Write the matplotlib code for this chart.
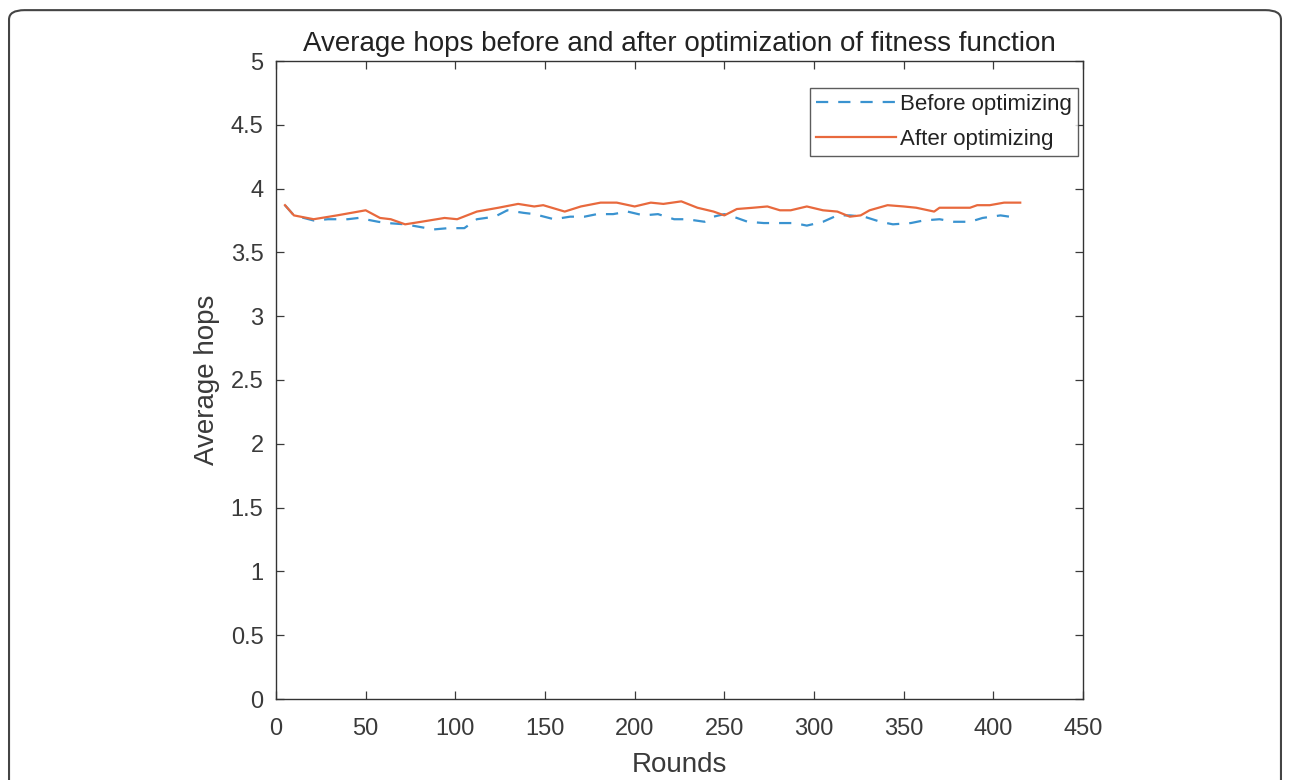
import matplotlib
matplotlib.use("Agg")
import matplotlib.pyplot as plt
from matplotlib.patches import FancyBboxPatch

plt.rcParams['font.family'] = ['Liberation Sans', 'DejaVu Sans']

# Data
after_x = [5, 10, 21, 34, 50, 58, 64, 72, 81, 94, 101, 112, 124, 135, 144, 149,
           161, 170, 181, 190, 200, 209, 216, 226, 235, 244, 250, 257, 266, 274,
           281, 287, 296, 305, 313, 320, 326, 331, 341, 350, 357, 367, 370, 380,
           387, 391, 398, 406, 415]
after_y = [3.87, 3.79, 3.76, 3.79, 3.83, 3.77, 3.76, 3.72, 3.74, 3.77, 3.76, 3.82,
           3.85, 3.88, 3.86, 3.87, 3.82, 3.86, 3.89, 3.89, 3.86, 3.89, 3.88, 3.90,
           3.85, 3.82, 3.79, 3.84, 3.85, 3.86, 3.83, 3.83, 3.86, 3.83, 3.82, 3.78,
           3.79, 3.83, 3.87, 3.86, 3.85, 3.82, 3.85, 3.85, 3.85, 3.87, 3.87, 3.89,
           3.89]

before_x = [5, 10, 21, 29, 40, 46, 57, 62, 72, 88, 96, 105, 112, 122, 129, 138,
            144, 155, 164, 172, 179, 188, 196, 205, 213, 222, 229, 239, 244, 250,
            257, 263, 272, 279, 289, 296, 305, 313, 320, 328, 337, 344, 354, 361,
            370, 378, 387, 394, 404, 409, 413]
before_y = [3.87, 3.79, 3.75, 3.76, 3.76, 3.77, 3.74, 3.73, 3.72, 3.68, 3.69, 3.69,
            3.76, 3.78, 3.83, 3.81, 3.80, 3.76, 3.78, 3.78, 3.80, 3.80, 3.82, 3.79,
            3.80, 3.76, 3.76, 3.74, 3.78, 3.80, 3.77, 3.74, 3.73, 3.73, 3.73, 3.71,
            3.74, 3.79, 3.79, 3.78, 3.74, 3.72, 3.73, 3.75, 3.76, 3.74, 3.74, 3.77,
            3.79, 3.78, 3.76]

x_ticks = [0, 50, 100, 150, 200, 250, 300, 350, 400, 450]
y_ticks = [0, 0.5, 1, 1.5, 2, 2.5, 3, 3.5, 4, 4.5, 5]

fig = plt.figure(figsize=(12.9, 7.8), dpi=100)
ax = fig.add_axes([276 / 1290, 81 / 780, 807 / 1290, 638 / 780])

ax.plot(before_x, before_y, color='#3a93d0', linestyle='--', linewidth=1.6,
        dashes=(5.5, 4.5), label='Before optimizing')
ax.plot(after_x, after_y, color='#e8693d', linestyle='-', linewidth=1.6,
        label='After optimizing')

ax.set_xlim(0, 450)
ax.set_ylim(0, 5)
ax.set_xticks(x_ticks)
ax.set_yticks(y_ticks)
ax.set_xticklabels([str(t) for t in x_ticks])
ax.set_yticklabels([('%g' % t) for t in y_ticks])
ax.tick_params(direction='in', top=True, right=True, length=6, width=0.9,
               labelsize=17, colors='#3a3a3a')
ax.tick_params(axis='x', pad=14)
ax.tick_params(axis='y', pad=9)
for s in ax.spines.values():
    s.set_color('#333333')
    s.set_linewidth(1.0)

ax.set_xlabel('Rounds', fontsize=20, color='#3a3a3a', labelpad=8)
ax.set_ylabel('Average hops', fontsize=20, color='#3a3a3a', labelpad=8)
ax.set_title('Average hops before and after optimization of fitness function',
             fontsize=20, color='#222222', pad=7)

leg = ax.legend(loc='upper right', bbox_to_anchor=(0.9938, 0.9577),
                fontsize=16, frameon=True, fancybox=False, borderaxespad=0,
                handlelength=3.6, handletextpad=0.2, borderpad=0.26,
                labelspacing=0.63)
leg.get_frame().set_edgecolor('#333333')
leg.get_frame().set_linewidth(1.0)
for t in leg.get_texts():
    t.set_color('#222222')

border = FancyBboxPatch((0.007, -0.05), 0.986, 1.037,
                        boxstyle='round,pad=0,rounding_size=0.012',
                        transform=fig.transFigure, fill=False,
                        edgecolor='#444444', linewidth=1.5, clip_on=False)
fig.patches.append(border)

fig.savefig('out.png', dpi=100)
